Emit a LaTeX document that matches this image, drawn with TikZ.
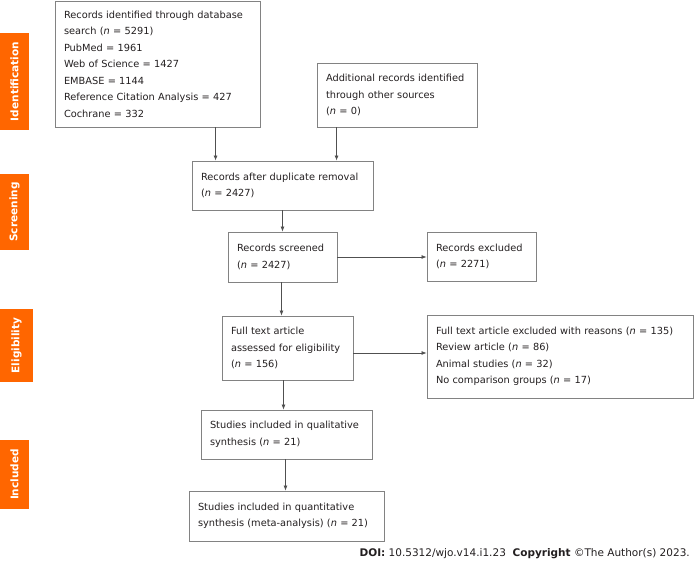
\documentclass[tikz,border=0pt]{standalone}
\usepackage{fontspec}
\setmainfont{DejaVu Sans}
\usetikzlibrary{arrows.meta,calc}
\definecolor{phase}{RGB}{255,102,0}
\definecolor{frame}{RGB}{130,130,130}
\definecolor{ink}{RGB}{35,31,32}
\definecolor{wire}{RGB}{80,80,80}
\begin{document}
\begin{tikzpicture}[x=1pt,y=-1pt,
   box/.style={draw=frame,line width=0.9pt,align=left,inner xsep=9pt,inner ysep=0pt,
     text=ink,font=\fontsize{9.8}{16.5}\selectfont,
     execute at begin node={\hyphenpenalty=10000\exhyphenpenalty=10000}},
   phasebox/.style={fill=phase,rotate=90,text=white,inner sep=0pt,
     font=\bfseries\fontsize{10.5}{12}\selectfont},
   arr/.style={draw=wire,line width=0.7pt,-{Latex[length=5pt,width=4pt]}}]
   \useasboundingbox (0,0) rectangle (694,561);

   % phases
   \node[phasebox,minimum width=97pt,minimum height=29pt] (ident) at (14.5,81.5) {Identification};
   \node[phasebox,minimum width=76pt,minimum height=29pt] (screen) at (14.5,212) {Screening};
   \node[phasebox,minimum width=73pt,minimum height=33pt] (elig) at (16.5,345.5) {Eligibility};
   \node[phasebox,minimum width=69pt,minimum height=29pt] (incl) at (14.5,474.5) {Included};

   % boxes
   \node[box,minimum width=205pt,text width=187pt,minimum height=126pt] (dbase) at (157.5,64)
     {Records identified through database\\search (\textit{n} = 5291)\\PubMed = 1961\\Web of Science = 1427\\EMBASE = 1144\\Reference Citation Analysis = 427\\Cochrane = 332};
   \node[box,minimum width=160pt,text width=142pt,minimum height=64pt] (other) at (397,95)
     {Additional records identified\\through other sources\\(\textit{n} = 0)};
   \node[box,minimum width=181pt,text width=163pt,minimum height=49pt] (dedup) at (282.5,185.5)
     {Records after duplicate removal\\(\textit{n} = 2427)};
   \node[box,minimum width=109pt,text width=91pt,minimum height=50pt] (screened) at (282.5,257)
     {Records screened\\(\textit{n} = 2427)};
   \node[box,minimum width=109pt,text width=91pt,minimum height=49pt] (excl) at (481.5,256.5)
     {Records excluded\\(\textit{n} = 2271)};
   \node[box,minimum width=131pt,text width=113pt,minimum height=64pt] (fulltext) at (287.5,348)
     {Full text article\\assessed for eligibility\\(\textit{n} = 156)};
   \node[box,minimum width=266pt,text width=248pt,minimum height=83pt] (reasons) at (560,356.5)
     {Full text article excluded with reasons (\textit{n} = 135)\\Review article (\textit{n} = 86)\\Animal studies (\textit{n} = 32)\\No comparison groups (\textit{n} = 17)};
   \node[box,minimum width=171pt,text width=153pt,minimum height=49pt] (qual) at (286.5,434.5)
     {Studies included in qualitative\\synthesis (\textit{n} = 21)};
   \node[box,minimum width=195pt,text width=177pt,minimum height=50pt] (quant) at (286.5,516)
     {Studies included in quantitative\\synthesis (meta-analysis) (\textit{n} = 21)};

   \node[anchor=base east,inner sep=0pt,text=ink,font=\fontsize{10.5}{12}\selectfont] (doi) at (690,556)
     {\textbf{DOI:} 10.5312/wjo.v14.i1.23\ \ \textbf{Copyright} ©The Author(s) 2023.};

   % arrows
   \coordinate (in1) at ([xshift=24pt]dedup.north west);
   \coordinate (in2) at ([xshift=20pt]other.south west);
   \draw[arr] (dbase.south -| in1) -- (in1);
   \draw[arr] (in2) -- (in2 |- dedup.north);
   \draw[arr] (dedup.south -| screened.north) -- (screened.north);
   \draw[arr] (screened.east) -- (screened.east -| excl.west);
   \draw[arr] ([xshift=-1pt]screened.south) -- ([xshift=-1pt]screened.south |- fulltext.north);
   \draw[arr] ([yshift=-5pt]fulltext.east) -- ([yshift=-5pt]fulltext.east -| reasons.west);
   \draw[arr] ([xshift=-4pt]fulltext.south) -- ([xshift=-4pt]fulltext.south |- qual.north);
   \draw[arr] ([xshift=-1pt]qual.south) -- ([xshift=-1pt]qual.south |- quant.north);
\end{tikzpicture}
\end{document}
